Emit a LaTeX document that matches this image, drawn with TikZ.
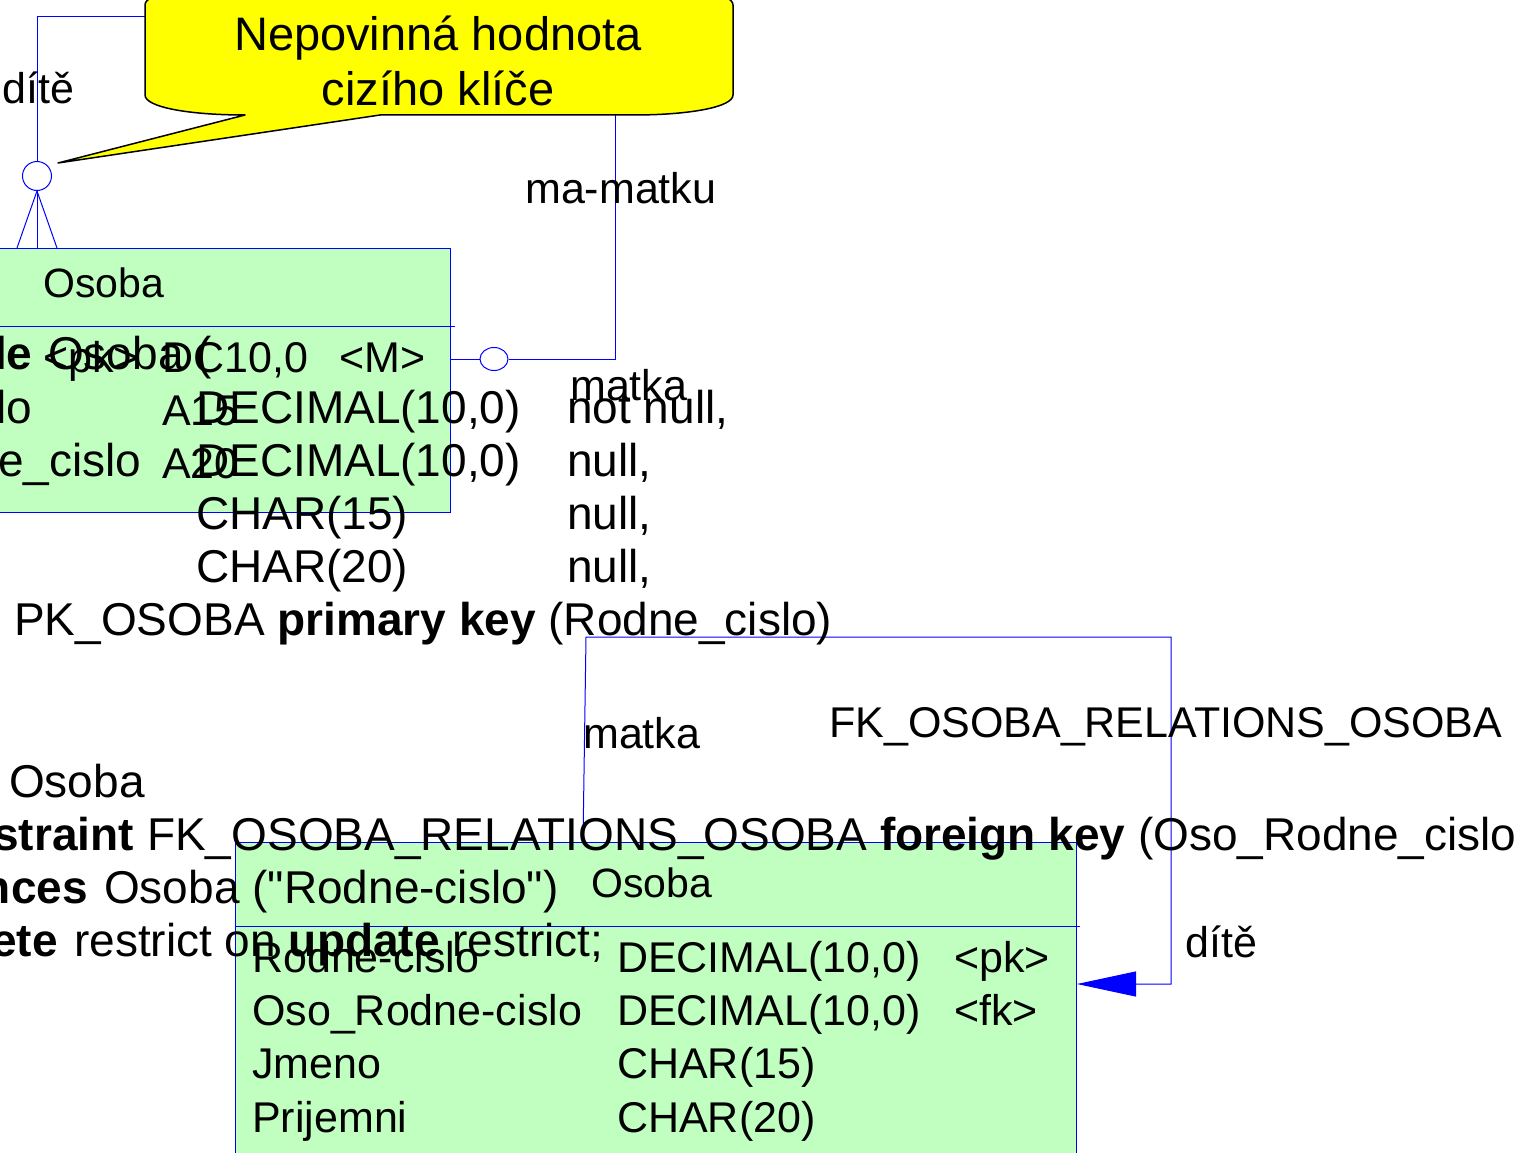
\documentclass[tikz,border=0pt]{standalone}
\usepackage{fontspec}
\setmainfont{Liberation Sans}
\newfontfamily\plainqfont{Liberation Sans}
\usetikzlibrary{arrows.meta,shapes.geometric}
\definecolor{tblgreen}{HTML}{C0FFC0}
\definecolor{relblue}{HTML}{0000FF}
\definecolor{noteyellow}{HTML}{FFFF00}
\newcommand{\sqlf}{\fontsize{46}{53}\selectfont}
\newcommand{\dgf}{\fontsize{43}{50}\selectfont}
\newcommand{\hdf}{\fontsize{41}{48}\selectfont}
\newcommand{\notef}{\fontsize{47}{56}\selectfont}
\newcommand{\dq}{{\plainqfont"}}
\begin{document}
\begin{tikzpicture}[x=1pt,y=-1pt,
 rel/.style={draw=relblue,line width=1pt},
 tbl/.style={draw=relblue,fill=tblgreen,line width=1pt,inner sep=0,anchor=north west},
 sql/.style={inner sep=0,anchor=base west,font=\sqlf},
 sqlR/.style={inner sep=0,anchor=base east,font=\sqlf},
 dg/.style={inner sep=0,anchor=base west,font=\dgf},
 hd/.style={inner sep=0,anchor=base west,font=\hdf},
 opt/.style={draw=relblue,fill=white,line width=1pt,ellipse,inner sep=0},
 note/.style={draw=black,fill=noteyellow,line width=1.5pt,line join=round},
 notetxt/.style={inner sep=0,anchor=base,font=\notef}]
\fill[white] (0,0) rectangle (1537,1153);
\clip (0,0) rectangle (1537,1153);

% tables
\node[tbl,minimum width=470pt,minimum height=264pt] (tA) at (-20,248) {};
\coordinate (sepA) at (455,326);
\draw[rel] (tA.west |- sepA) -- (sepA);
\node[tbl,minimum width=841pt,minimum height=340pt] (tB) at (235,842) {};
\coordinate (sepB) at (1080,926);
\draw[rel] (tB.west |- sepB) -- (sepB);

% upper self relationship
\node[opt,minimum width=29pt,minimum height=29pt] (oL) at (37,176) {};
\node[opt,minimum width=28pt,minimum height=23pt] (oR) at (494,359) {};
\coordinate (k1) at (37,17);
\coordinate (k2) at (615,17);
\coordinate (k3) at (615,359);
\coordinate (cfl) at (17,248);
\coordinate (cfr) at (57,248);
\draw[rel] (oL.north) -- (k1) -- (k2) -- (k3) -- (oR.east);
\draw[rel] (oR.west) -- (tA.east |- oR);
\draw[rel] (oL.south) -- (oL.south |- tA.north);
\draw[rel] (cfl) -- (oL.south) -- (cfr);

% lower self relationship
\coordinate (m0) at (583,842);
\coordinate (m1) at (586,637);
\coordinate (m2) at (1171,637);
\coordinate (m3) at (1171,984);
\draw[rel,-{Triangle[length=59pt,width=25pt]}] (m0) -- (m1) -- (m2) -- (m3) -- (tB.east |- m3);

% callout
\draw[note] (245,115) -- (58,163) -- (380,115) -- (633,115)
  .. controls (690,115) and (733,107) .. (733,95) -- (733,5)
  .. controls (733,-7) and (690,-15) .. (633,-15) -- (245,-15)
  .. controls (188,-15) and (145,-7) .. (145,5) -- (145,95)
  .. controls (145,107) and (188,115) .. (245,115) -- cycle;
\node[notetxt] (n1) at (438,51) {Nepovinná hodnota};
\node[notetxt] (n2) at (438,106) {cizího klíče};

% relationship labels
\node[dg] (lb1) at (2,104) {dítě};
\node[dg] (lb2) at (525,203) {ma-matku};
\node[dg] (lb3) at (570,400) {matka};
\node[dg] (lb4) at (583,748) {matka};
\node[dg] (lb5) at (829,737) {FK\_OSOBA\_RELATIONS\_OSOBA};
\node[dg] (lb6) at (1185,957) {dítě};

% upper table contents
\node[hd] (ha) at (43,297) {Osoba};
\node[dg] (a1) at (43,372) {<pk>};
\node[dg] (a2) at (162,372) {DC10,0};
\node[dg] (a3) at (339,372) {<M>};
\node[dg] (a4) at (162,425) {A15};
\node[dg] (a5) at (162,478) {A20};

% lower table contents
\node[hd] (hb) at (591,897) {Osoba};
\node[dg] (b11) at (252,972) {Rodne-cislo};
\node[dg] (b12) at (617,972) {DECIMAL(10,0)};
\node[dg] (b13) at (954,972) {<pk>};
\node[dg] (b21) at (252,1025) {Oso\_Rodne-cislo};
\node[dg] (b22) at (617,1025) {DECIMAL(10,0)};
\node[dg] (b23) at (954,1025) {<fk>};
\node[dg] (b31) at (252,1078) {Jmeno};
\node[dg] (b32) at (617,1078) {CHAR(15)};
\node[dg] (b41) at (252,1132) {Prijemni};
\node[dg] (b42) at (617,1132) {CHAR(20)};

% SQL text
\node[sql] (s1a) at (-6,369) {\textbf{le}};
\node[sql] (s1b) at (48,369) {Osoba (};
\node[sql] (s2a) at (-4,423) {lo};
\node[sql] (s2b) at (196,423) {DECIMAL(10,0)};
\node[sql] (s2c) at (567,423) {not null,};
\node[sql] (s3a) at (-2,476) {e\_cislo};
\node[sql] (s3b) at (196,476) {DECIMAL(10,0)};
\node[sql] (s3c) at (567,476) {null,};
\node[sql] (s4b) at (196,529) {CHAR(15)};
\node[sql] (s4c) at (567,529) {null,};
\node[sql] (s5b) at (196,582) {CHAR(20)};
\node[sql] (s5c) at (567,582) {null,};
\node[sql] (s6) at (14,635) {PK\_OSOBA \textbf{primary key} (Rodne\_cislo)};
\node[sql] (s9) at (9,797) {Osoba};
\node[sqlR] (s10a) at (134,850) {\textbf{straint}};
\node[sql] (s10b) at (147,850) {FK\_OSOBA\_RELATIONS\_OSOBA \textbf{foreign key} (Oso\_Rodne\_cislo};
\node[sqlR] (s11a) at (88,903) {\textbf{nces}};
\node[sql] (s11b) at (104,903) {Osoba (\dq Rodne-cislo\dq)};
\node[sqlR] (s12a) at (58,956) {\textbf{ete}};
\node[sql] (s12b) at (74,956) {restrict on \textbf{update} restrict;};
\end{tikzpicture}
\end{document}
